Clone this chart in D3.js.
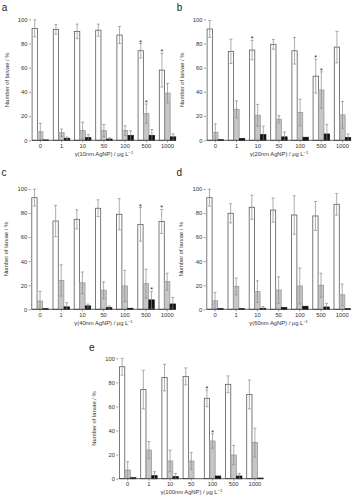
<!DOCTYPE html>
<html><head><meta charset="utf-8">
<script src="https://cdn.jsdelivr.net/npm/d3@7"></script>
<style>body{margin:0;background:#fff}svg{display:block}</style>
</head><body>
<svg id="chart" width="357" height="500"></svg>
<script>
// ---------- data ----------
const categories = ["0", "1", "10", "50", "100", "500", "1000"];
const seriesNames = ["white", "grey", "black"];
const yTicks = [0, 20, 40, 60, 80, 100];

const aWhite = [92.5, 91.7, 90, 91, 87, 74, 58];
const aWhiteSD = [7, 4, 6, 5, 7, 6, 14];
const aGrey = [7, 6.3, 8, 8, 8, 22, 39];
const aGreySD = [7, 3, 7, 5, 4, 8, 8];
const aBlack = [0.3, 1.6, 2.2, 1, 3.9, 3.9, 2.8];
const aBlackSD = [0, 1, 2.5, 1, 4, 5, 2.5];
const aStars = [["500", "white"], ["1000", "white"], ["500", "grey"]];

const bWhite = [92, 73.5, 74.6, 79.3, 74, 53, 77];
const bWhiteSD = [7, 10, 8, 4, 11, 14, 13];
const bGrey = [6.6, 25.6, 20.7, 17.4, 23, 41.6, 21];
const bGreySD = [7, 7, 9, 3, 11, 15, 11];
const bBlack = [0.5, 1.4, 4.7, 2.8, 2.5, 5.2, 2.2];
const bBlackSD = [0, 0, 7, 4, 0, 8, 3];
const bStars = [["10", "white"], ["500", "white"], ["500", "grey"]];

const cWhite = [92.8, 73.4, 74.8, 84, 79, 70.6, 73];
const cWhiteSD = [7, 13, 8, 7, 13, 14, 10];
const cGrey = [6.9, 24, 22, 15.8, 19.4, 21.3, 23];
const cGreySD = [8, 13, 9, 7, 13, 12, 7];
const cBlack = [0.5, 2, 2.8, 1.4, 0.8, 7.8, 4.4];
const cBlackSD = [0, 3.5, 1.5, 1.4, 0, 7, 5.5];
const cStars = [["500", "white"], ["1000", "white"], ["500", "black"]];

const dWhite = [92.8, 79.8, 84.8, 82.5, 78.4, 77.6, 87.3];
const dWhiteSD = [7, 8, 10, 10, 16, 12, 9];
const dGrey = [7, 19, 14.7, 16, 19.4, 20, 12];
const dGreySD = [7, 7, 9, 11, 15, 10, 9];
const dBlack = [0.5, 0.5, 0.8, 1.4, 2.5, 1.9, 0.5];
const dBlackSD = [0, 0, 1.4, 0, 0, 3, 0];
const dStars = [];

const eWhite = [93, 74, 84, 85, 66.8, 78.4, 70];
const eWhiteSD = [7, 16, 11, 7, 7, 7, 12];
const eGrey = [7.2, 23.8, 14.7, 14.7, 31.3, 19.7, 30];
const eGreySD = [7, 7, 9, 7, 6, 8, 12];
const eBlack = [0.8, 2.5, 1.7, 0, 2.2, 2.2, 0.5];
const eBlackSD = [0, 3.3, 2.7, 0, 0, 2.2, 0];
const eStars = [["100", "white"], ["100", "grey"]];

const panelSizes = ["10nm", "20nm", "40nm", "60nm", "100nm"];

// ---------- layout ----------
const panels = [
  {letter: "a", size: panelSizes[0], x0: 29.7, top: 19.3, bottom: 140.3, ly: 11,
   vals: [aWhite, aGrey, aBlack], sds: [aWhiteSD, aGreySD, aBlackSD], stars: aStars},
  {letter: "b", size: panelSizes[1], x0: 204.7, top: 19.3, bottom: 140.3, ly: 11,
   vals: [bWhite, bGrey, bBlack], sds: [bWhiteSD, bGreySD, bBlackSD], stars: bStars},
  {letter: "c", size: panelSizes[2], x0: 29.4, top: 189, bottom: 309.3, ly: 175.5,
   vals: [cWhite, cGrey, cBlack], sds: [cWhiteSD, cGreySD, cBlackSD], stars: cStars},
  {letter: "d", size: panelSizes[3], x0: 204.4, top: 189, bottom: 309.3, ly: 175.5,
   vals: [dWhite, dGrey, dBlack], sds: [dWhiteSD, dGreySD, dBlackSD], stars: dStars},
  {letter: "e", size: panelSizes[4], x0: 117.1, top: 358.3, bottom: 478.7, ly: 351,
   vals: [eWhite, eGrey, eBlack], sds: [eWhiteSD, eGreySD, eBlackSD], stars: eStars}
];

const fills = {white: "#ffffff", grey: "#c6c6c6", black: "#111111"};
const strokes = {white: "#5a5a5a", grey: "#9a9a9a", black: "#111111"};
const font = "'Liberation Sans', Arial, sans-serif";
const svg = d3.select("#chart");

panels.forEach(p => {
  const g = svg.append("g");
  const x = d3.scaleBand().domain(categories).range([p.x0, p.x0 + 148.4])
    .paddingInner(0.2).paddingOuter(0.1);
  const xs = d3.scaleBand().domain(seriesNames).range([0, x.bandwidth()]).padding(0.05);
  const y = d3.scaleLinear().domain([0, 100]).range([p.bottom, p.top]);

  // bars
  seriesNames.forEach((s, si) => {
    const rows = categories.map((c, i) => ({c, v: p.vals[si][i], sd: p.sds[si][i]}));
    g.selectAll(null).data(rows).enter().append("rect")
      .attr("x", d => x(d.c) + xs(s))
      .attr("y", d => y(d.v))
      .attr("width", xs.bandwidth())
      .attr("height", d => y(0) - y(d.v))
      .attr("fill", fills[s])
      .attr("stroke", strokes[s])
      .attr("stroke-width", 0.8);
    // error bars
    const eb = rows.filter(d => d.sd > 0);
    const cx = d => x(d.c) + xs(s) + xs.bandwidth() / 2;
    g.selectAll(null).data(eb).enter().append("path")
      .attr("d", d => {
        const x1 = cx(d), yt = y(d.v + d.sd), yb = y(Math.max(0, d.v - d.sd));
        return `M${x1},${yt}V${yb}M${x1 - 1.5},${yt}H${x1 + 1.5}M${x1 - 1.5},${yb}H${x1 + 1.5}`;
      })
      .attr("stroke", s === "black" ? "#888" : "#8a8a8a")
      .attr("stroke-width", 0.7)
      .attr("fill", "none");
    // stars
    const st = p.stars.filter(t => t[1] === s).map(t => rows[categories.indexOf(t[0])]);
    g.selectAll(null).data(st).enter().append("text")
      .attr("x", d => cx(d))
      .attr("y", d => y(d.v + d.sd) + 1)
      .attr("text-anchor", "middle")
      .attr("font-family", font).attr("font-size", 7).attr("fill", "#222")
      .text("*");
  });

  // y axis
  const ya = g.append("g").attr("transform", `translate(${p.x0 + 1.3},0)`)
    .call(d3.axisLeft(y).tickValues(yTicks).tickSize(2).tickPadding(1.5));
  ya.select(".domain").remove();
  ya.selectAll("line").attr("stroke", "#555").attr("stroke-width", 0.6);
  ya.selectAll("text").attr("font-family", font).attr("font-size", 5.8).attr("fill", "#333");

  // x axis
  const xa = g.append("g").attr("transform", `translate(0,${p.bottom})`)
    .call(d3.axisBottom(x).tickSize(2).tickSizeOuter(0).tickPadding(1.5));
  const xStart = x(categories[0]), xEnd = x(categories[categories.length - 1]) + x.bandwidth();
  xa.select(".domain").attr("d", `M${xStart},0H${xEnd}`).attr("stroke", "#333").attr("stroke-width", 0.8);
  xa.selectAll("line").attr("stroke", "#555").attr("stroke-width", 0.6);
  xa.selectAll("text").attr("font-family", font).attr("font-size", 5.8).attr("fill", "#333");

  // x title
  const xt = g.append("text")
    .attr("x", (xStart + xEnd) / 2).attr("y", p.bottom + 15.5)
    .attr("text-anchor", "middle")
    .attr("font-family", font).attr("font-size", 5.8).attr("fill", "#333");
  xt.append("tspan").text(`γ(${p.size} AgNP) / μg L`);
  xt.append("tspan").attr("dy", -2.2).attr("font-size", 4).text("−1");

  // y title
  g.append("text")
    .attr("transform", `translate(${p.x0 - 21},${(p.top + p.bottom) / 2}) rotate(-90)`)
    .attr("text-anchor", "middle")
    .attr("font-family", font).attr("font-size", 5.8).attr("fill", "#333")
    .text("Number of larvae / %");

  // panel letter
  g.append("text")
    .attr("x", p.x0 - 28).attr("y", p.ly)
    .attr("font-family", font).attr("font-size", 10).attr("fill", "#222")
    .text(p.letter);
});
</script>
</body></html>
